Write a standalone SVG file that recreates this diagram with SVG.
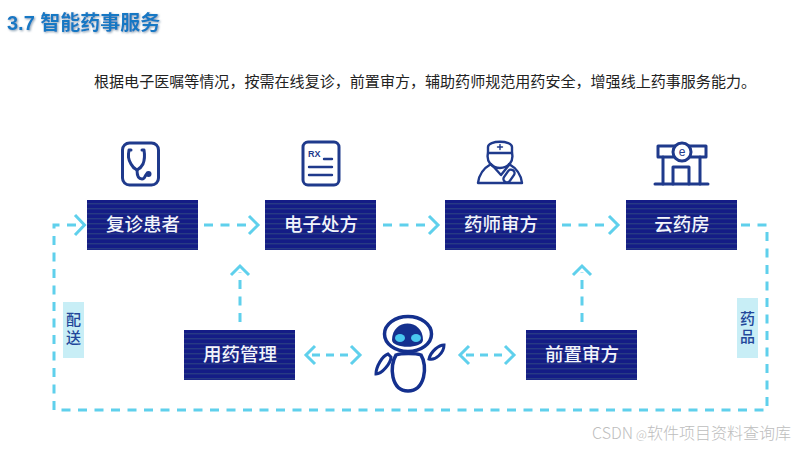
<svg xmlns="http://www.w3.org/2000/svg" width="800" height="450" viewBox="0 0 800 450">
<style>
.cjk{font-family:"Liberation Sans","Noto Sans CJK SC",sans-serif}
.box{fill:url(#st)}
.bt{font-family:"Noto Sans CJK SC",sans-serif;font-size:18.500px;font-weight:500;fill:#f2f4fa;text-anchor:middle}
.d{fill:none;stroke:#5fd0ec;stroke-width:3;stroke-dasharray:9 7.500}
.h{fill:none;stroke:#5fd0ec;stroke-width:3}
.i{fill:none;stroke:#1f3a8c;stroke-width:3;stroke-linecap:round;stroke-linejoin:round}
.s{font-family:"Noto Sans CJK SC",sans-serif;font-size:15px;font-weight:500;fill:#22479a;text-anchor:middle;writing-mode:vertical-rl;letter-spacing:3px}
.tag{fill:#c8eef6}
</style>
<defs>
<pattern id="st" width="6" height="5" patternUnits="userSpaceOnUse">
<rect width="6" height="5" fill="#141c86"/>
<rect y="3" width="6" height="1.400" fill="#273a84"/>
</pattern>
<filter id="sh" x="-5%" y="-20%" width="110%" height="140%"><feDropShadow dx="1" dy="1" stdDeviation="0.800" flood-color="#8aa0b4"/></filter>
</defs>
<rect width="800" height="450" fill="#fff"/>
<text x="7" y="30" font-size="20" font-weight="700" fill="#1878c4" class="cjk" filter="url(#sh)">3.7 智能药事服务</text>
<text x="94" y="87" font-size="15.050" fill="#222" style="font-family:'Noto Sans CJK SC',sans-serif">根据电子医嘱等情况，按需在线复诊，前置审方，辅助药师规范用药安全，增强线上药事服务能力。</text>

<g id="connectors">
<path class="d" d="M204 225H250"/><path class="h" d="M249 216l9 9-9 9"/>
<path class="d" d="M383 225H430"/><path class="h" d="M429 216l9 9-9 9"/>
<path class="d" d="M562 225H610"/><path class="h" d="M609 216l9 9-9 9"/>
<path class="d" d="M741 225H767V410H54V225H78"/><path class="h" d="M75 215l9.500 10-9.500 10"/>
<path class="d" d="M240 322V272"/><path class="h" d="M231 275l9-9 9 9"/>
<path class="d" d="M582 322V272"/><path class="h" d="M573 275l9-9 9 9"/>
<path class="d" style="stroke-dasharray:8 6" d="M312 355H352"/><path class="h" d="M315 346l-9 9 9 9M351 346l9 9-9 9"/>
<path class="d" style="stroke-dasharray:8 6" d="M466 355H506"/><path class="h" d="M469 346l-9 9 9 9M505 346l9 9-9 9"/>
</g>

<g id="patient">
<rect class="box" x="87" y="200" width="111" height="50"/>
<text class="bt" x="143" y="231">复诊患者</text>
<g class="i">
<rect x="122.500" y="143" width="36" height="42" rx="7"/>
<path d="M131 150h-2c-1 6-1 9 2 14 2 4 6 6 6 6s4-2 6-6c2-5 2-8 1-14h-2"/>
<path d="M137 170c0 5 1 9 5 9s2-5 6-5"/>
</g>
<circle cx="148.500" cy="174" r="3" fill="#1f3a8c"/>
</g>

<g id="prescription">
<rect class="box" x="265" y="200" width="111" height="50"/>
<text class="bt" x="321" y="231">电子处方</text>
<g class="i">
<rect x="303" y="142" width="36" height="43" rx="5"/>
<path d="M324 159h8M309 167h23M309 175h23" style="stroke-width:2.400"/>
</g>
<text x="308" y="157" font-size="9" font-weight="700" fill="#1f3a8c" class="cjk">RX</text>
</g>

<g id="pharmacist">
<rect class="box" x="445" y="200" width="111" height="50"/>
<text class="bt" x="501" y="231">药师审方</text>
<g class="i" style="stroke-width:2.400">
<path d="M488 153v-6c0-7 24-7 24 0v6z"/>
<path d="M488 153c-2 9 4 15 12 15s14-6 12-15"/>
<path d="M491 164c-7 4-12 10-13 19h44c-1-9-6-15-13-19"/>
<path d="M492 165l9 10 8-10"/>
<path d="M497.500 147h5M500 144.500v5" style="stroke-width:1.400"/>
<rect x="-3.500" y="-7" width="7" height="14" rx="3.500" transform="translate(509 176) rotate(35)"/>
</g>
</g>

<g id="pharmacy">
<rect class="box" x="626" y="200" width="111" height="50"/>
<text class="bt" x="682" y="231">云药房</text>
<g class="i">
<path d="M658 146h48v11h-48z"/>
<path d="M663 157v27M700 157v27"/>
<path d="M655 184h53"/>
<path d="M673 184v-17h16v17"/>
<circle cx="682" cy="152" r="9" fill="#fff"/>
</g>
<text x="682" y="156" font-size="12" fill="#1f3a8c" text-anchor="middle" class="cjk">e</text>
</g>

<g id="medication">
<rect class="box" x="184" y="330" width="111" height="50"/>
<text class="bt" x="240" y="361">用药管理</text>
</g>

<g id="robot">
<g fill="none" stroke="#14308e" stroke-width="3.500">
<ellipse cx="408" cy="334" rx="23.500" ry="17.500"/>
<path d="M396 355c-7 11-5 36 12 36s20-25 13-36c-5-2-20-2-25 0z"/>
<path d="M388 354c-6 2-12 13-12 20 6 0 15-11 15-17z" stroke-width="3"/>
<path d="M444 345c-5 0-13 6-15 14 6 2 15-6 15-14z" stroke-width="3"/>
</g>
<path d="M392 340c0-22 31-22 31 0 0 9-31 9-31 0z" fill="#14308e"/>
<ellipse cx="400" cy="338" rx="5" ry="4" fill="#49c8ef"/>
<ellipse cx="416" cy="338" rx="5" ry="4" fill="#49c8ef"/>
</g>

<g id="prereview">
<rect class="box" x="526" y="330" width="111" height="50"/>
<text class="bt" x="582" y="361">前置审方</text>
</g>

<g id="delivery">
<rect class="tag" x="63" y="302" width="21" height="56"/>
<text class="s" x="73.500" y="330">配送</text>
</g>
<g id="drug">
<rect class="tag" x="737" y="298" width="21" height="60"/>
<text class="s" x="747.500" y="329">药品</text>
</g>

<text x="592" y="439" font-size="16" font-weight="300" fill="#bdbdbd" style="font-family:'Noto Sans CJK SC',sans-serif">CSDN<tspan x="636" font-size="12">@</tspan>软件项目资料查询库</text>
</svg>
